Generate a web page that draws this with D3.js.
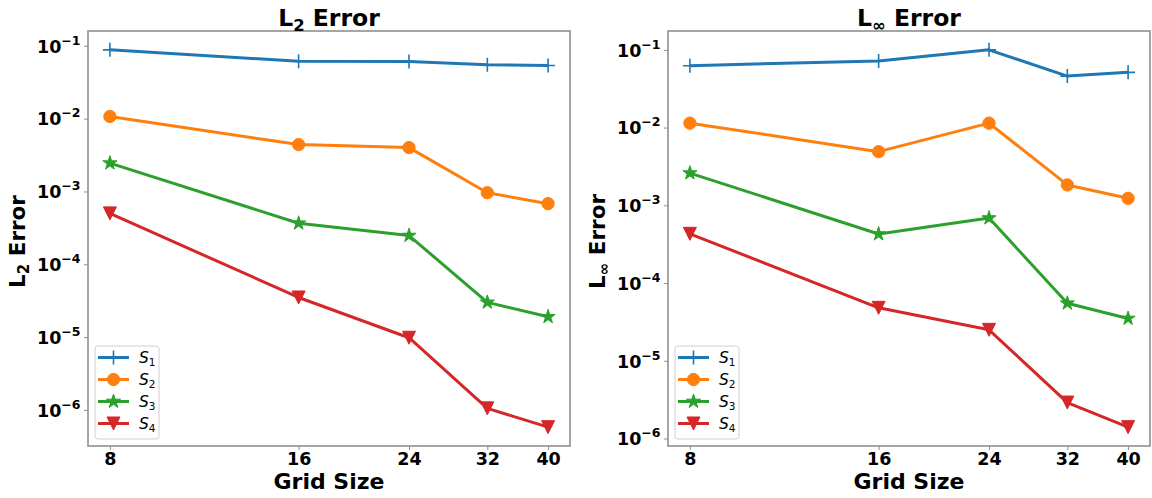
<!DOCTYPE html>
<html>
<head>
<meta charset="utf-8">
<script src="https://cdn.jsdelivr.net/npm/d3@7"></script>
<style>
  body { margin: 0; background: #fff; }
  text { font-family: "DejaVu Sans", sans-serif; white-space: pre; }
</style>
</head>
<body>
<svg id="viz"></svg>
<script>
var width = 1152;
var height = 498;

// data
var gridSizes = [8, 16, 24, 32, 40];
var seriesSubs = ["1", "2", "3", "4"];
var seriesColors = ["#1f77b4", "#ff7f0e", "#2ca02c", "#d62728"];
var seriesMarkers = ["plus", "circle", "star", "triangleDown"];
var yTickValues = [1e-1, 1e-2, 1e-3, 1e-4, 1e-5, 1e-6];

// L2 error
var l2S1 = [0.088, 0.0615, 0.061, 0.0548, 0.0536];
var l2S2 = [0.0107, 0.0044, 0.0040, 0.00096, 0.00068];
var l2S3 = [0.00245, 0.000366, 0.000248, 3.0e-5, 1.9e-5];
var l2S4 = [5.0e-4, 3.5e-5, 9.8e-6, 1.05e-6, 5.8e-7];

// L-infinity error
var linfS1 = [0.0626, 0.072, 0.1, 0.046, 0.0514];
var linfS2 = [0.0114, 0.0049, 0.0114, 0.00183, 0.00123];
var linfS3 = [0.0026, 0.000427, 0.000686, 5.5e-5, 3.5e-5];
var linfS4 = [4.3e-4, 4.8e-5, 2.5e-5, 2.9e-6, 1.4e-6];

var svg = d3.select("#viz")
  .attr("width", width)
  .attr("height", height);

var plotTop = 31;
var plotBottom = 446;
var frameColor = "#8f8f8f";

var panels = [
  { left: 88, right: 570, sub: "2", series: [l2S1, l2S2, l2S3, l2S4] },
  { left: 668, right: 1150, sub: "\u221E", series: [linfS1, linfS2, linfS3, linfS4] }
];

// matplotlib style 5% margin in log space
function logPad(values) {
  var ext = d3.extent(values);
  var a = Math.log10(ext[0]), b = Math.log10(ext[1]);
  var m = (b - a) * 0.05;
  return [Math.pow(10, a - m), Math.pow(10, b + m)];
}

function markerPath(type) {
  if (type === "plus") return "M-7,0H7M0,-7V7";
  if (type === "star") return d3.symbol(d3.symbolStar, 62)();
  if (type === "triangleDown") return "M0,6.5L-6.5,-6.5L6.5,-6.5Z";
  return d3.symbol(d3.symbolCircle, Math.PI * 38)();
}

// "L" with subscript, then rest of text
function subText(sel, main, sub, rest, size) {
  sel.append("tspan").text(main);
  sel.append("tspan").attr("font-size", size * 0.7).attr("dy", size * 0.2).text(sub);
  sel.append("tspan").attr("font-size", size).attr("dy", -size * 0.2).text(rest);
}

function drawPanel(p) {
  var g = svg.append("g");
  var cx = (p.left + p.right) / 2;

  var x = d3.scaleLog()
    .domain(logPad(gridSizes))
    .range([p.left, p.right]);

  var allValues = d3.merge(p.series);
  var y = d3.scaleLog()
    .domain(logPad(allValues))
    .range([plotBottom, plotTop]);

  // x axis
  var xAxis = g.append("g")
    .attr("transform", "translate(0," + plotBottom + ")")
    .call(d3.axisBottom(x).tickValues(gridSizes).tickFormat(d3.format("d"))
      .tickSize(4).tickPadding(3));
  xAxis.select(".domain").remove();
  xAxis.selectAll("line").attr("stroke", frameColor);
  xAxis.selectAll("text")
    .attr("font-size", 17.5)
    .attr("font-weight", "bold")
    .attr("font-family", "DejaVu Sans")
    .attr("fill", "#000");

  // y axis
  var yAxis = g.append("g")
    .attr("transform", "translate(" + p.left + ",0)")
    .call(d3.axisLeft(y).tickValues(yTickValues).tickSize(4).tickPadding(3.5));
  yAxis.select(".domain").remove();
  yAxis.selectAll("line").attr("stroke", frameColor);
  yAxis.selectAll("text")
    .attr("font-size", 17.5)
    .attr("font-weight", "bold")
    .attr("font-family", "DejaVu Sans")
    .attr("fill", "#000")
    .attr("dy", "0.36em")
    .each(function(d) {
      var t = d3.select(this).text("");
      var k = Math.round(-Math.log10(d));
      t.append("tspan").text("10");
      t.append("tspan").attr("font-size", 12.5).attr("dy", -8).text("\u2212" + k);
    });

  // series
  p.series.forEach(function(values, i) {
    var pts = values.map(function(v, j) { return [x(gridSizes[j]), y(v)]; });
    g.append("path")
      .attr("d", d3.line()(pts))
      .attr("fill", "none")
      .attr("stroke", seriesColors[i])
      .attr("stroke-width", 3)
      .attr("stroke-linejoin", "round");
    g.selectAll(".m" + i)
      .data(pts)
      .enter().append("path")
      .attr("class", "m" + i)
      .attr("transform", function(d) { return "translate(" + d[0] + "," + d[1] + ")"; })
      .attr("d", markerPath(seriesMarkers[i]))
      .attr("fill", seriesMarkers[i] === "plus" ? "none" : seriesColors[i])
      .attr("stroke", seriesColors[i])
      .attr("stroke-width", seriesMarkers[i] === "plus" ? 1.6 : 1);
  });

  // frame
  g.append("rect")
    .attr("x", p.left)
    .attr("y", plotTop)
    .attr("width", p.right - p.left)
    .attr("height", plotBottom - plotTop)
    .attr("fill", "none")
    .attr("stroke", frameColor)
    .attr("stroke-width", 1.6);

  // title
  var title = g.append("text")
    .attr("x", cx)
    .attr("y", 26)
    .attr("text-anchor", "middle")
    .attr("font-size", 23.5)
    .attr("font-weight", "bold");
  subText(title, "L", p.sub, " Error", 23.5);

  // x label
  g.append("text")
    .attr("x", cx)
    .attr("y", 489)
    .attr("text-anchor", "middle")
    .attr("font-size", 22)
    .attr("font-weight", "bold")
    .text("Grid Size");

  // y label
  var ylab = g.append("text")
    .attr("transform", "translate(" + (p.left - 63) + "," + ((plotTop + plotBottom) / 2 + 3) + ") rotate(-90)")
    .attr("text-anchor", "middle")
    .attr("font-size", 21.5)
    .attr("font-weight", "bold");
  subText(ylab, "L", p.sub, " Error", 21.5);

  // legend
  var lx = p.left + 7;
  var ly = 346;
  var legend = g.append("g").attr("transform", "translate(" + lx + "," + ly + ")");
  legend.append("rect")
    .attr("width", 64)
    .attr("height", 93)
    .attr("rx", 3)
    .attr("fill", "#fff")
    .attr("fill-opacity", 0.8)
    .attr("stroke", "#d0d0d0")
    .attr("stroke-width", 1);
  seriesSubs.forEach(function(s, i) {
    var ey = 11.5 + i * 22;
    var item = legend.append("g").attr("transform", "translate(0," + ey + ")");
    item.append("line")
      .attr("x1", 3).attr("x2", 34)
      .attr("stroke", seriesColors[i])
      .attr("stroke-width", 3);
    item.append("path")
      .attr("transform", "translate(18.5,0)")
      .attr("d", markerPath(seriesMarkers[i]))
      .attr("fill", seriesMarkers[i] === "plus" ? "none" : seriesColors[i])
      .attr("stroke", seriesColors[i])
      .attr("stroke-width", seriesMarkers[i] === "plus" ? 1.6 : 1);
    var lt = item.append("text")
      .attr("x", 44)
      .attr("y", 5.5)
      .attr("font-size", 15.5);
    lt.append("tspan").attr("font-style", "italic").text("S");
    lt.append("tspan").attr("font-size", 10.5).attr("dy", 3).text(s);
  });
}

panels.forEach(drawPanel);
</script>
</body>
</html>
